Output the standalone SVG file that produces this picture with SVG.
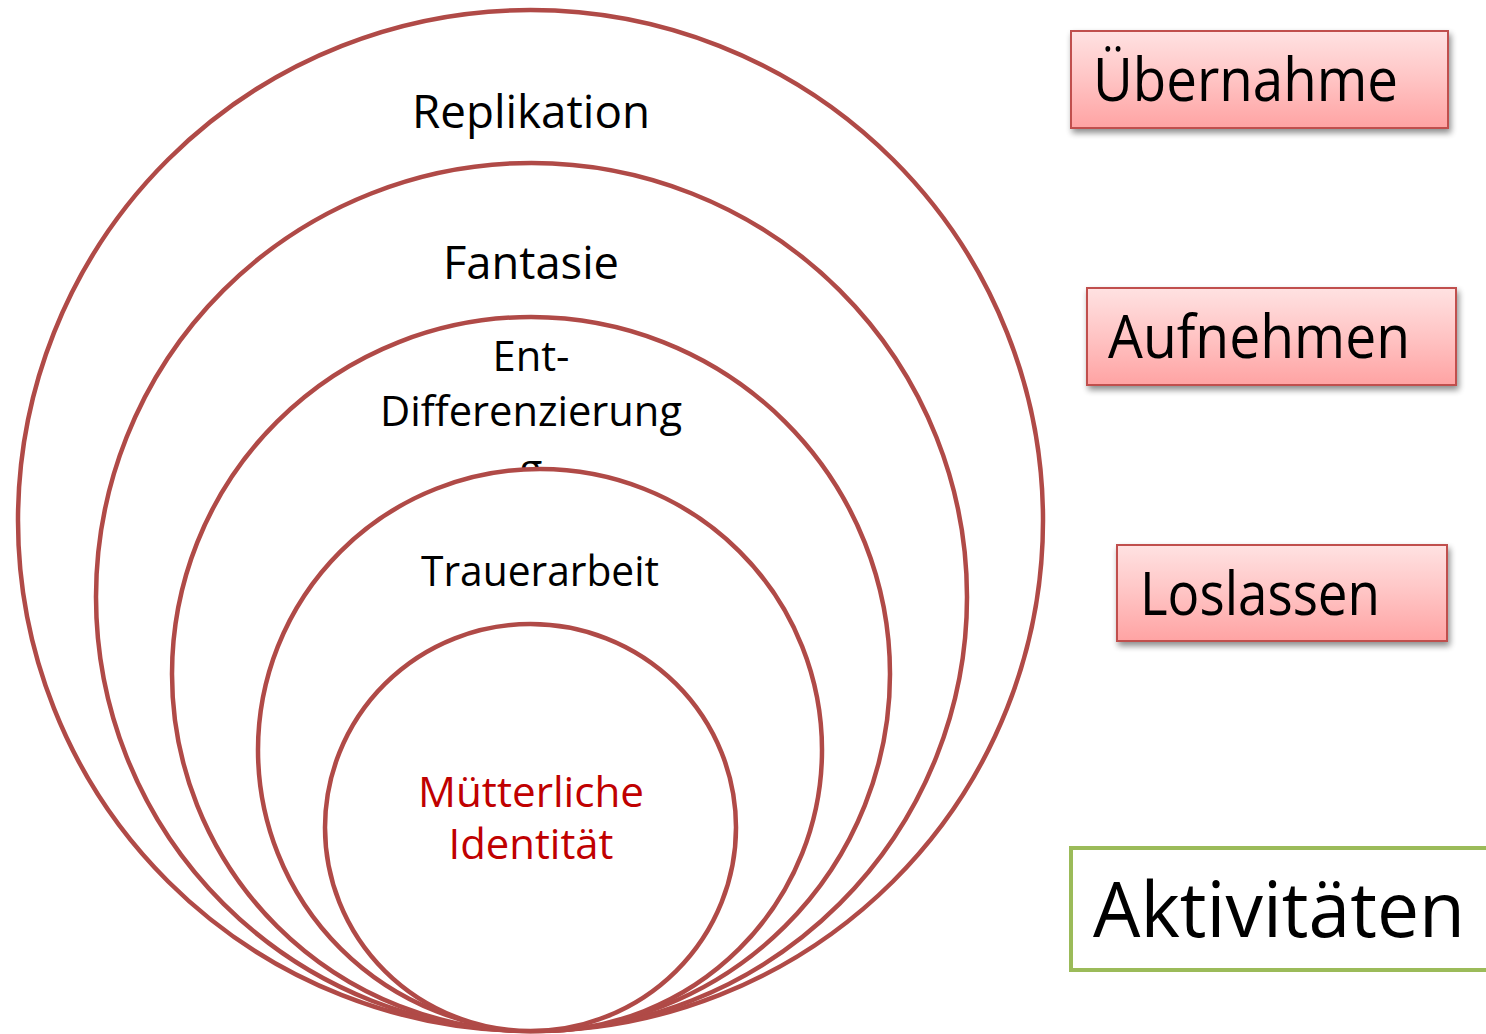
<svg xmlns="http://www.w3.org/2000/svg" width="1486" height="1034" viewBox="0 0 1486 1034">
<defs>
<linearGradient id="pink" x1="0" y1="0" x2="0" y2="1">
<stop offset="0" stop-color="#ffe2e2"/>
<stop offset="0.5" stop-color="#ffc4c4"/>
<stop offset="1" stop-color="#ffa3a3"/>
</linearGradient>
<filter id="shadow" x="-10%" y="-20%" width="130%" height="160%">
<feGaussianBlur in="SourceAlpha" stdDeviation="3"/>
<feOffset dx="2" dy="4" result="b"/>
<feComponentTransfer><feFuncA type="linear" slope="0.45"/></feComponentTransfer>
<feMerge><feMergeNode/><feMergeNode in="SourceGraphic"/></feMerge>
</filter>
</defs>
<style>
.ring{fill:#ffffff;stroke:#b04a47;stroke-width:4.5}
.lbl{font-family:"Open Sans","Noto Sans","Liberation Sans",sans-serif;fill:#000;text-anchor:middle}
.red{fill:#c00000}
.box{fill:url(#pink);stroke:#c0504d;stroke-width:2}
.btxt{font-family:"Open Sans","Noto Sans","Liberation Sans",sans-serif;fill:#000}
</style>
<rect width="1486" height="1034" fill="#ffffff"/>
<g id="ring-replikation">
<ellipse class="ring" cx="530.5" cy="520.5" rx="512.5" ry="510.5"/>
<text class="lbl" x="531" y="128" font-size="46" textLength="238" lengthAdjust="spacingAndGlyphs">Replikation</text>
</g>
<g id="ring-fantasie">
<ellipse class="ring" cx="531.5" cy="597" rx="435.5" ry="434"/>
<text class="lbl" x="531" y="279" font-size="46" textLength="176" lengthAdjust="spacingAndGlyphs">Fantasie</text>
</g>
<g id="ring-entdifferenzierung">
<ellipse class="ring" cx="531" cy="674" rx="359" ry="357"/>
<text class="lbl" x="531" y="371" font-size="42" textLength="77" lengthAdjust="spacingAndGlyphs">Ent-</text>
<text class="lbl" x="531" y="426" font-size="42" textLength="302" lengthAdjust="spacingAndGlyphs">Differenzierung</text>
<text class="lbl" x="531" y="484" font-size="42">g</text>
</g>
<g id="ring-trauerarbeit">
<ellipse class="ring" cx="540" cy="750" rx="282" ry="281"/>
<text class="lbl" x="540" y="586" font-size="42" textLength="238" lengthAdjust="spacingAndGlyphs">Trauerarbeit</text>
</g>
<g id="ring-identitaet">
<ellipse class="ring" cx="530.5" cy="827.5" rx="205.5" ry="203.5"/>
<text class="lbl red" x="531" y="807" font-size="42" textLength="226" lengthAdjust="spacingAndGlyphs">Mütterliche</text>
<text class="lbl red" x="531" y="859" font-size="42" textLength="165" lengthAdjust="spacingAndGlyphs">Identität</text>
</g>
<g id="connectors"></g>
<g id="box-uebernahme">
<rect class="box" x="1071" y="31" width="377" height="97" filter="url(#shadow)"/>
<text class="btxt" x="1093" y="101" font-size="60" textLength="305" lengthAdjust="spacingAndGlyphs">Übernahme</text>
</g>
<g id="box-aufnehmen">
<rect class="box" x="1087" y="288" width="369" height="97" filter="url(#shadow)"/>
<text class="btxt" x="1108" y="358" font-size="60" textLength="302" lengthAdjust="spacingAndGlyphs">Aufnehmen</text>
</g>
<g id="box-loslassen">
<rect class="box" x="1117" y="545" width="330" height="96" filter="url(#shadow)"/>
<text class="btxt" x="1140" y="615" font-size="60" textLength="240" lengthAdjust="spacingAndGlyphs">Loslassen</text>
</g>
<g id="box-aktivitaeten">
<rect x="1071" y="848" width="430" height="122" fill="#ffffff" stroke="#9bbb59" stroke-width="4"/>
<text class="btxt" x="1093" y="937" font-size="76" textLength="372" lengthAdjust="spacingAndGlyphs">Aktivitäten</text>
</g>
</svg>
